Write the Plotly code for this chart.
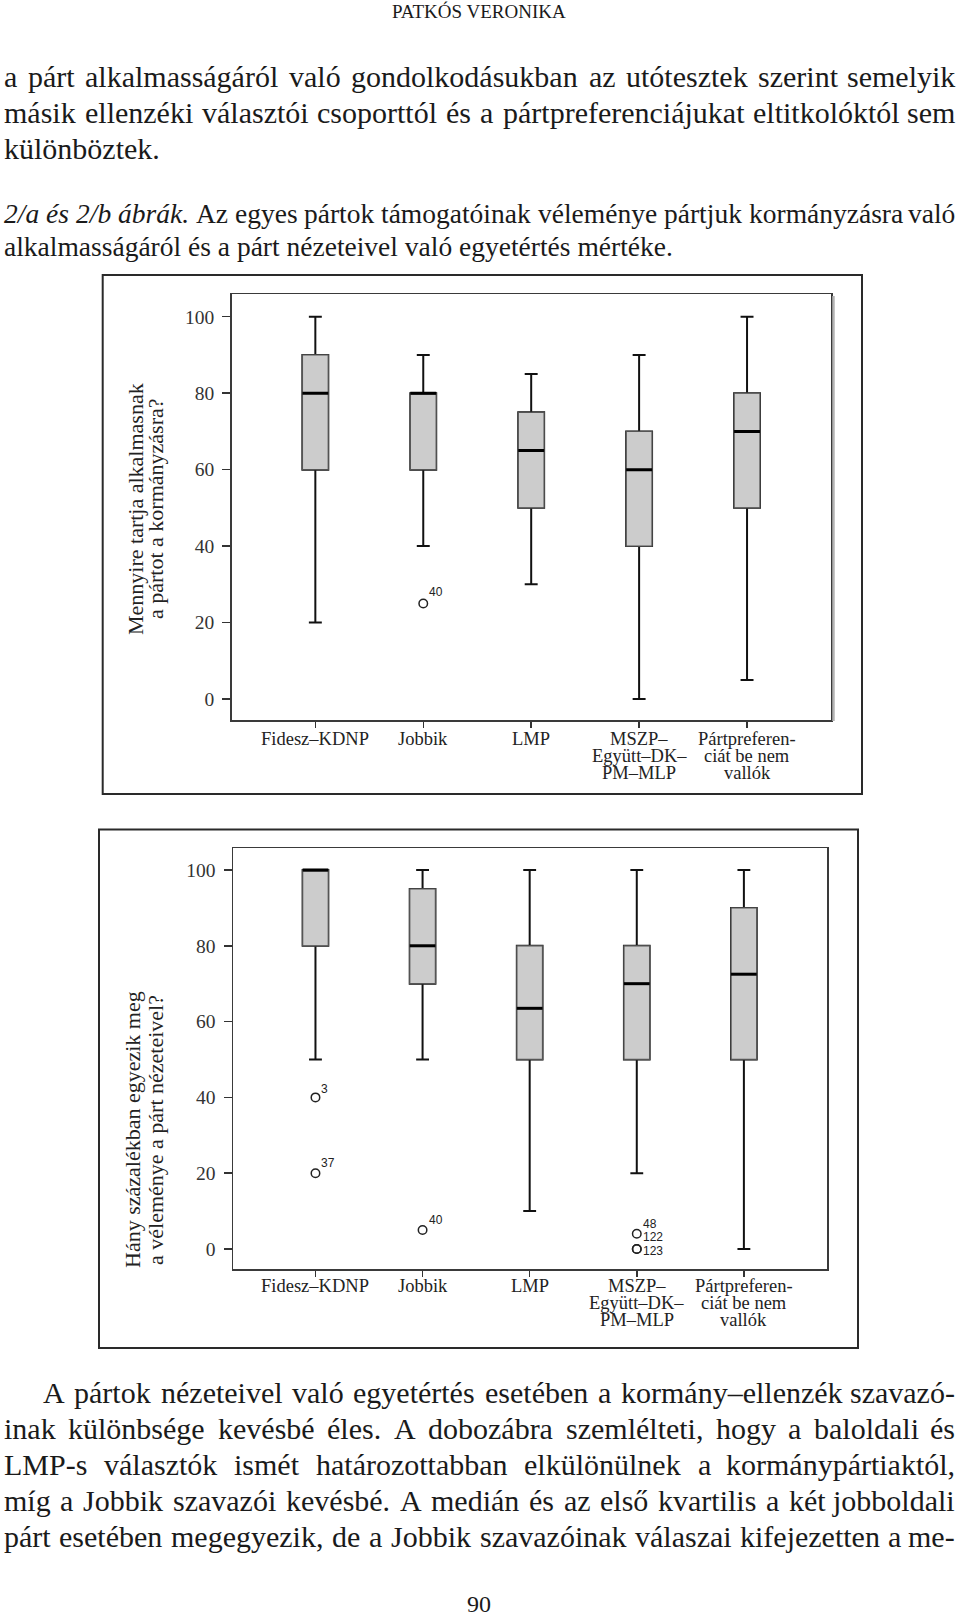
import unicodedata
import plotly.graph_objects as go

W, H = 960, 1620

# ---------------- data ----------------
categories = ["Fidesz–KDNP", "Jobbik", "LMP", "MSZP–Együtt–DK–PM–MLP", "Pártpreferenciát be nem vallók"]
category_label_lines = [
    ["Fidesz–KDNP"],
    ["Jobbik"],
    ["LMP"],
    ["MSZP–", "Együtt–DK–", "PM–MLP"],
    ["Pártpreferen-", "ciát be nem", "vallók"],
]
y_tick_values = [0, 20, 40, 60, 80, 100]

# 2/a chart
a_title_lines = ["Mennyire tartja alkalmasnak", "a pártot a kormányzásra?"]
a_min = [20, 40, 30, 0, 5]
a_q1 = [60, 60, 50, 40, 50]
a_median = [80, 80, 65, 60, 70]
a_q3 = [90, 80, 75, 70, 80]
a_max = [100, 90, 85, 90, 100]
a_outlier_category = ["Jobbik"]
a_outlier_value = [25]
a_outlier_label = ["40"]

# 2/b chart
b_title_lines = ["Hány százalékban egyezik meg", "a véleménye a párt nézeteivel?"]
b_min = [50, 50, 10, 20, 0]
b_q1 = [80, 70, 50, 50, 50]
b_median = [100, 80, 63.5, 70, 72.5]
b_q3 = [100, 95, 80, 80, 90]
b_max = [100, 100, 100, 100, 100]
b_outlier_category = ["Fidesz–KDNP", "Fidesz–KDNP", "Jobbik",
                      "MSZP–Együtt–DK–PM–MLP", "MSZP–Együtt–DK–PM–MLP", "MSZP–Együtt–DK–PM–MLP"]
b_outlier_value = [40, 20, 5, 4, 0, 0]
b_outlier_label = ["3", "37", "40", "48", "122", "123"]

# page text
header_text = "PATKÓS VERONIKA"
page_number = "90"
top_par_lines = [
    "a párt alkalmasságáról való gondolkodásukban az utótesztek szerint semelyik",
    "másik ellenzéki választói csoporttól és a pártpreferenciájukat eltitkolóktól sem",
    "különböztek.",
]
caption_lines = [
    "2/a és 2/b ábrák. Az egyes pártok támogatóinak véleménye pártjuk kormányzásra való",
    "alkalmasságáról és a párt nézeteivel való egyetértés mértéke.",
]
caption_italic_words = [4, 0]
bottom_par_lines = [
    "A pártok nézeteivel való egyetértés esetében a kormány–ellenzék szavazó-",
    "inak különbsége kevésbé éles. A dobozábra szemlélteti, hogy a baloldali és",
    "LMP-s választók ismét határozottabban elkülönülnek a kormánypártiaktól,",
    "míg a Jobbik szavazói kevésbé. A medián és az első kvartilis a két jobboldali",
    "párt esetében megegyezik, de a Jobbik szavazóinak válaszai kifejezetten a me-",
]

# ---------------- styles ----------------
SERIF = "Liberation Serif"
SANS = "Liberation Sans"
INK = "#1a1a1a"
FILL = "#cccccc"
BOX_W = 0.24
BODY_SIZE = 30
CAPTION_SIZE = 27.5

CHAR_W = {" ": 250, ",": 250, "-": 333, ".": 250, "/": 278, "?": 444, "–": 500,
          "A": 722, "B": 667, "C": 667, "D": 722, "E": 611, "F": 556, "G": 722, "H": 722,
          "I": 333, "J": 389, "K": 722, "L": 611, "M": 889, "N": 722, "O": 722, "P": 556,
          "Q": 722, "R": 667, "S": 556, "T": 611, "U": 722, "V": 722, "W": 944, "X": 722,
          "Y": 722, "Z": 611,
          "a": 444, "b": 500, "c": 444, "d": 500, "e": 444, "f": 333, "g": 500, "h": 500,
          "i": 278, "j": 278, "k": 500, "l": 278, "m": 778, "n": 500, "o": 500, "p": 500,
          "q": 500, "r": 333, "s": 389, "t": 278, "u": 500, "v": 500, "w": 722, "x": 500,
          "y": 500, "z": 444}
ITALIC_W = {"a": 500, "r": 389, "k": 444, "b": 500, "e": 444, "s": 389}


def text_width(s, size, italic=False):
    tot = 0
    for ch in s:
        base = unicodedata.normalize("NFD", ch)[0]
        w = CHAR_W.get(base, 500)
        if italic and base in ITALIC_W:
            w = ITALIC_W[base]
        tot += w
    return tot * size / 1000


def px(x):
    return x / W


def py(y):
    return 1 - y / H


fig = go.Figure()
annotations = []
shapes = []


def add_text_line(text, baseline, justified, left=3, right=956, n_italic=0, size=BODY_SIZE):
    yc = py(baseline - 0.3375 * size)
    font = dict(family=SERIF, size=size, color=INK)
    words = text.split(" ")
    if not justified:
        t = " ".join(("<i>%s</i>" % w) if i < n_italic else w for i, w in enumerate(words))
        annotations.append(dict(x=px(left), y=yc, xref="paper", yref="paper", text=t,
                                showarrow=False, xanchor="left", yanchor="middle",
                                font=font, borderpad=0))
        return
    widths = [text_width(w, size, i < n_italic) for i, w in enumerate(words)]
    gap = (right - left - sum(widths)) / (len(words) - 1)
    x = left
    for i, w in enumerate(words):
        t = ("<i>%s</i>" % w) if i < n_italic else w
        last = i == len(words) - 1
        annotations.append(dict(x=px(right if last else x), y=yc, xref="paper", yref="paper",
                                text=t, showarrow=False,
                                xanchor="right" if last else "left", yanchor="middle",
                                font=font, borderpad=0))
        x += widths[i] + gap


# header and page text
annotations.append(dict(x=px(479), y=py(11.6), xref="paper", yref="paper", text=header_text,
                        showarrow=False, xanchor="center", yanchor="middle",
                        font=dict(family=SERIF, size=19, color=INK)))
for i, (line, base) in enumerate(zip(top_par_lines, [87, 122.7, 158.5])):
    add_text_line(line, base, justified=(i < len(top_par_lines) - 1))
for i, (line, base) in enumerate(zip(caption_lines, [222.5, 256])):
    add_text_line(line, base, justified=(i < len(caption_lines) - 1),
                  n_italic=caption_italic_words[i], size=CAPTION_SIZE)
for i, (line, base) in enumerate(zip(bottom_par_lines, [1403, 1439, 1475, 1511, 1547])):
    add_text_line(line, base, justified=True, left=(42 if i == 0 else 3))
annotations.append(dict(x=px(479), y=py(1604), xref="paper", yref="paper", text=page_number,
                        showarrow=False, xanchor="center", yanchor="middle",
                        font=dict(family=SERIF, size=24, color=INK)))


def add_chart(xa, ya, mins, q1s, meds, q3s, maxs, out_cat, out_val, out_lbl, out_dy):
    xs = list(range(len(categories)))
    common = dict(x=xs, width=BOX_W, fillcolor=FILL, boxpoints=False, xaxis=xa, yaxis=ya,
                  hoverinfo="skip", showlegend=False)
    fig.add_trace(go.Box(q1=q1s, median=meds, q3=q3s, lowerfence=mins, upperfence=maxs,
                         whiskerwidth=0.5, line=dict(color="#111111", width=2), **common))
    fig.add_trace(go.Box(q1=q1s, median=meds, q3=q3s, lowerfence=q1s, upperfence=q3s,
                         whiskerwidth=0, line=dict(color="#555555", width=1.3), **common))
    mx, my = [], []
    for i, m in enumerate(meds):
        mx += [i - BOX_W / 2, i + BOX_W / 2, None]
        my += [m, m, None]
    fig.add_trace(go.Scatter(x=mx, y=my, mode="lines", line=dict(color="#000000", width=3),
                             xaxis=xa, yaxis=ya, hoverinfo="skip", showlegend=False))
    ox = [categories.index(c) for c in out_cat]
    fig.add_trace(go.Scatter(x=ox, y=out_val, mode="markers",
                             marker=dict(symbol="circle-open", size=8.5, color="#222222",
                                         line=dict(width=1.5, color="#222222")),
                             xaxis=xa, yaxis=ya, hoverinfo="skip", showlegend=False))
    xref = "x" if xa == "x" else "x2"
    yref = "y" if ya == "y" else "y2"
    for x, v, t, dy in zip(ox, out_val, out_lbl, out_dy):
        annotations.append(dict(x=x, y=v, xref=xref, yref=yref, text=t, showarrow=False,
                                xanchor="left", yanchor="middle", xshift=4, yshift=dy,
                                font=dict(family=SANS, size=12, color="#222222")))


add_chart("x", "y", a_min, a_q1, a_median, a_q3, a_max,
          a_outlier_category, a_outlier_value, a_outlier_label, [11])
add_chart("x2", "y2", b_min, b_q1, b_median, b_q3, b_max,
          b_outlier_category, b_outlier_value, b_outlier_label, [8, 10, 10.5, 10, 12, -2])

# category labels
for xref, ys in (("x", [739, 756, 773]), ("x2", [1286, 1303, 1320])):
    for i, lines in enumerate(category_label_lines):
        for j, t in enumerate(lines):
            annotations.append(dict(x=i, y=py(ys[j]), xref=xref, yref="paper", text=t,
                                    showarrow=False, xanchor="center", yanchor="middle",
                                    font=dict(family=SERIF, size=18.5, color="#222222")))

# y titles
for lines, xs_, yc in ((a_title_lines, [135, 155], 509), (b_title_lines, [132, 155], 1130)):
    for t, xx in zip(lines, xs_):
        annotations.append(dict(x=px(xx), y=py(yc), xref="paper", yref="paper", text=t,
                                showarrow=False, textangle=-90, xanchor="center",
                                yanchor="middle",
                                font=dict(family=SERIF, size=22, color="#222222")))

# frames
for x0, y0, x1, y1 in ((102.7, 275, 862, 794), (99, 829.5, 858, 1348)):
    shapes.append(dict(type="rect", xref="paper", yref="paper", x0=px(x0), x1=px(x1),
                       y0=py(y1), y1=py(y0), line=dict(color="#2a2a2a", width=2)))
shapes.append(dict(type="line", xref="paper", yref="paper", x0=px(833.5), x1=px(833.5),
                   y0=py(721), y1=py(296), line=dict(color="#b4b4b4", width=2.5)))

axis_common = dict(showgrid=False, zeroline=False, showline=True, mirror=True,
                   linecolor="#3a3a3a", linewidth=1.5, ticks="outside", tickcolor="#333333",
                   tickwidth=1.5, fixedrange=True)
xaxis_common = dict(axis_common, tickmode="array", tickvals=list(range(len(categories))),
                    ticklen=6, showticklabels=False)
yaxis_common = dict(axis_common, tickmode="array", tickvals=y_tick_values,
                    ticktext=[str(v) for v in y_tick_values], ticklen=8,
                    tickfont=dict(family=SERIF, size=19.5, color="#333333"), ticklabelstandoff=4)

fig.update_layout(
    width=W, height=H, autosize=False,
    margin=dict(l=0, r=0, t=0, b=0),
    paper_bgcolor="white", plot_bgcolor="white",
    showlegend=False, boxmode="overlay",
    xaxis=dict(xaxis_common, domain=[px(231.7), px(831)], range=[-0.775, 4.778], anchor="y"),
    yaxis=dict(yaxis_common, domain=[py(720), py(294)], range=[-5.49, 105.94], anchor="x"),
    xaxis2=dict(xaxis_common, domain=[px(233), px(827)], range=[-0.77, 4.776], anchor="y2"),
    yaxis2=dict(yaxis_common, domain=[py(1269), py(848)], range=[-5.28, 105.8], anchor="x2"),
    annotations=annotations,
    shapes=shapes,
)

fig.write_html(
    "out.html",
    config={"displayModeBar": False, "staticPlot": True},
    post_script="document.body.style.margin='0px';document.body.style.overflow='hidden';",
)
